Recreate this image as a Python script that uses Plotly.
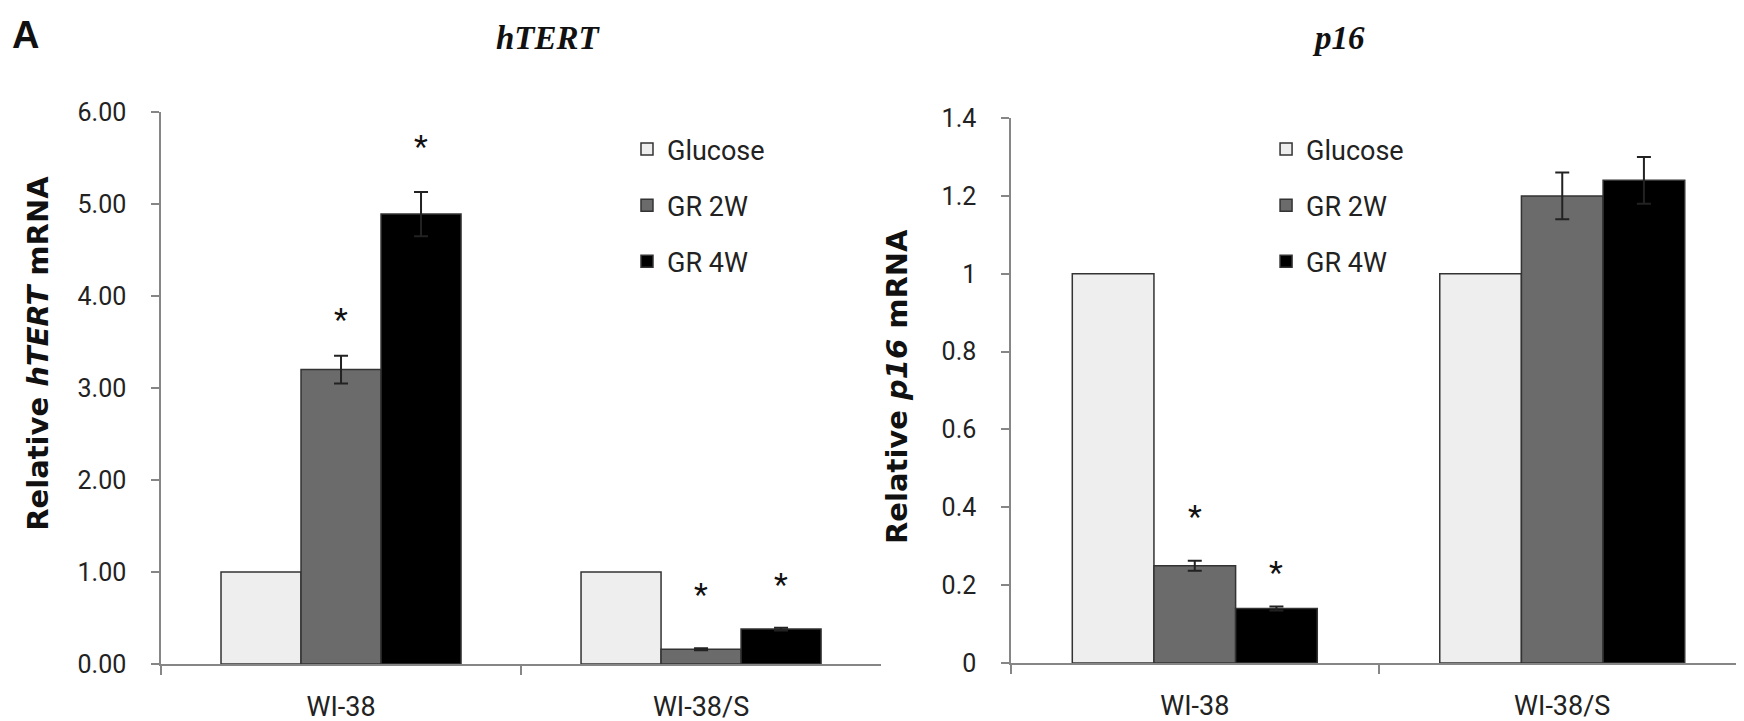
import plotly.graph_objects as go

# ---------------- data ----------------
categories = ["WI-38", "WI-38/S"]
series_names = ["Glucose", "GR 2W", "GR 4W"]

htert_glucose = [1.00, 1.00]
htert_gr2w = [3.20, 0.16]
htert_gr4w = [4.89, 0.38]
htert_gr2w_err = [0.15, 0.01]
htert_gr4w_err = [0.24, 0.015]

p16_glucose = [1.00, 1.00]
p16_gr2w = [0.25, 1.20]
p16_gr4w = [0.14, 1.24]
p16_gr2w_err = [0.013, 0.06]
p16_gr4w_err = [0.005, 0.06]

# significance asterisks: (series index, category index, y value)
htert_sig = [(1, 0, 3.73), (2, 0, 5.61), (1, 1, 0.74), (2, 1, 0.85)]
p16_sig = [(1, 0, 0.373), (2, 0, 0.229)]

htert_ticks = [0, 1, 2, 3, 4, 5, 6]
p16_ticks = [0, 0.2, 0.4, 0.6, 0.8, 1.0, 1.2, 1.4]

# ---------------- style ----------------
fills = ["#EEEEEE", "#6B6B6B", "#000000"]
AX = "#868686"
TXT = "#222222"
LABEL_FONT = "Roboto"
BARGAP = 1 / 3

fig = go.Figure()

panels = [
    ("x", "y", "legend", [htert_glucose, htert_gr2w, htert_gr4w],
     [None, htert_gr2w_err, htert_gr4w_err]),
    ("x2", "y2", "legend2", [p16_glucose, p16_gr2w, p16_gr4w],
     [None, p16_gr2w_err, p16_gr4w_err]),
]

for p, (xa, ya, lg, vals_list, errs) in enumerate(panels):
    for k, name in enumerate(series_names):
        err = errs[k]
        fig.add_trace(go.Bar(
            x=categories, y=vals_list[k], name=name,
            xaxis=xa, yaxis=ya, legend=lg, legendgroup=f"{lg}-{k}",
            marker=dict(color=fills[k], line=dict(color="#333333", width=1.5)),
            error_y=dict(type="data", array=err if err else [0, 0],
                         visible=err is not None, color="#222222",
                         thickness=2, width=7),
        ))

annotations = []
bar_w = (1 - BARGAP) / 3
for xa, ya, sig in [("x", "y", htert_sig), ("x2", "y2", p16_sig)]:
    for k, ci, yv in sig:
        annotations.append(dict(
            x=ci + (k - 1) * bar_w, y=yv, xref=xa, yref=ya, text="*",
            showarrow=False, yanchor="middle", yshift=2,
            font=dict(family=LABEL_FONT, size=32, color="#111111")))

# panel titles, y-axis titles and panel letter
title_font = dict(family="Liberation Serif", size=33, color="#111")
ytitle_font = dict(family="DejaVu Sans", size=29, color="#111", weight="bold")
annotations += [
    dict(text="<b><i>hTERT</i></b>", x=0.2447, y=1.134, xref="paper", yref="paper",
         xanchor="center", yanchor="middle", showarrow=False, font=title_font),
    dict(text="<b><i>p16</i></b>", x=0.7426, y=1.134, xref="paper", yref="paper",
         xanchor="center", yanchor="middle", showarrow=False, font=title_font),
    dict(text="<b>A</b>", x=-0.0858, y=1.1395, xref="paper", yref="paper",
         xanchor="center", yanchor="middle", showarrow=False,
         font=dict(family="Liberation Sans", size=38, color="#111")),
    dict(text="Relative <i>hTERT</i> mRNA", textangle=-90, x=-0.0776, y=0.562,
         xref="paper", yref="paper", xanchor="center", yanchor="middle",
         showarrow=False, font=ytitle_font),
    dict(text="Relative <i>p16</i> mRNA", textangle=-90, x=0.4644, y=0.502,
         xref="paper", yref="paper", xanchor="center", yanchor="middle",
         showarrow=False, font=ytitle_font),
]

xcommon = dict(type="category", tickson="boundaries", ticks="outside", ticklen=9,
               tickcolor=AX, tickwidth=1.5, showline=True, linecolor=AX, linewidth=1.5,
               showgrid=False, tickfont=dict(family=LABEL_FONT, size=27, color=TXT),
               ticklabelstandoff=18, automargin=False)
ycommon = dict(ticks="outside", ticklen=8, tickcolor=AX, tickwidth=1.5, showline=True,
               linecolor=AX, linewidth=1.5, showgrid=False, zeroline=False,
               tickfont=dict(family=LABEL_FONT, size=25, color=TXT),
               ticklabelstandoff=20, automargin=False)

legcommon = dict(xanchor="left", yanchor="top", bgcolor="rgba(0,0,0,0)",
                 font=dict(family=LABEL_FONT, size=27, color=TXT),
                 tracegroupgap=18, traceorder="grouped")

fig.update_layout(
    width=1744, height=721,
    margin=dict(l=153, r=6, t=104, b=65),
    paper_bgcolor="white", plot_bgcolor="white",
    barmode="group", bargap=BARGAP, bargroupgap=0,
    xaxis=dict(domain=[0, 0.4543], anchor="y", **xcommon),
    yaxis=dict(domain=[0, 1], anchor="x", range=[0, 6], tickvals=htert_ticks,
               tickformat=".2f", **ycommon),
    xaxis2=dict(domain=[0.5363, 1.0], anchor="y2", **xcommon),
    yaxis2=dict(domain=[0.0018, 0.989], anchor="x2", range=[0, 1.4], tickvals=p16_ticks,
                **ycommon),
    legend=dict(x=0.294, y=0.9764, **legcommon),
    legend2=dict(x=0.6972, y=0.9764, **legcommon),
    annotations=annotations,
)

fig.write_html("out.html")
